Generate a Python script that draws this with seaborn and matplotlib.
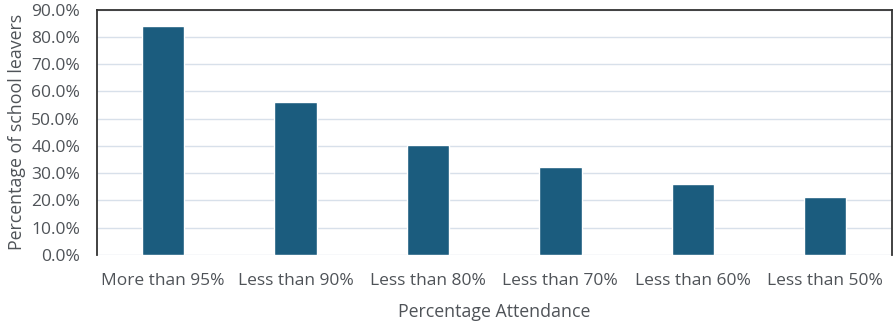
import pandas as pd
import matplotlib.pyplot as plt
import seaborn as sns
from matplotlib.ticker import PercentFormatter

# Data
categories = ['More than 95%', 'Less than 90%', 'Less than 80%',
              'Less than 70%', 'Less than 60%', 'Less than 50%']
leavers_pct = [84.1, 56.2, 40.4, 32.3, 26.1, 21.3]

df = pd.DataFrame({'Attendance': categories, 'Leavers': leavers_pct})

sns.set_style('white')
plt.rcParams['font.family'] = ['Open Sans', 'DejaVu Sans']

fig, ax = plt.subplots(figsize=(8.96, 3.22), dpi=100)
fig.subplots_adjust(left=0.108, right=0.995, top=0.97, bottom=0.208)

sns.barplot(data=df, x='Attendance', y='Leavers', color='#1B5C7E',
            saturation=1, width=0.32, ax=ax, zorder=3)

ax.set_ylim(0, 90)
ax.set_yticks(range(0, 91, 10))
ax.yaxis.set_major_formatter(PercentFormatter(decimals=1))
ax.grid(axis='y', color='#D8E0EA', linewidth=1, zorder=0)

text_col = '#4F5358'
ax.tick_params(axis='y', labelsize=12.5, colors=text_col, length=0, pad=12)
ax.tick_params(axis='x', labelsize=12.5, colors=text_col, length=0, pad=13)
for lbl in ax.get_xticklabels() + ax.get_yticklabels():
    lbl.set_fontweight('medium')
ax.set_xlabel('Percentage Attendance', fontsize=12.8, color=text_col, labelpad=10)
ax.set_ylabel('Percentage of school leavers', fontsize=12.8, color=text_col, labelpad=4)

for side in ['left', 'top', 'right']:
    ax.spines[side].set_color('#333333')
    ax.spines[side].set_linewidth(1.3)
ax.spines['bottom'].set_visible(False)

plt.savefig('out.png', dpi=100)
